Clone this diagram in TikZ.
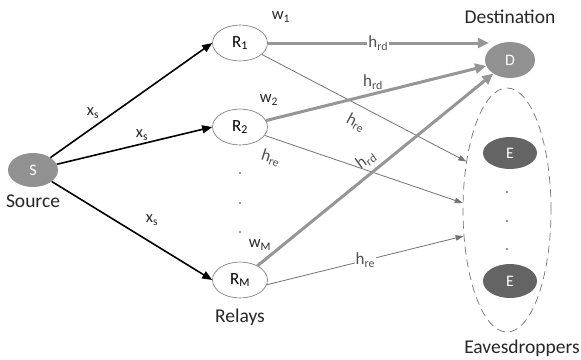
\documentclass[tikz,border=0pt]{standalone}
\usepackage{fontspec}
\setmainfont{Carlito}
\usetikzlibrary{arrows.meta,shapes.geometric}

\definecolor{linkgray}{RGB}{150,150,150}
\definecolor{leakgray}{RGB}{115,115,115}
\definecolor{nodegray}{RGB}{145,145,145}
\definecolor{evegray}{RGB}{100,100,100}
\definecolor{labelgray}{RGB}{80,80,80}

\begin{document}
\begin{tikzpicture}[x=1pt,y=-1pt,
  relay/.style={ellipse,draw=leakgray,fill=white,line width=0.6pt,
    minimum width=55pt,minimum height=36pt,inner sep=0pt,
    font=\fontsize{17}{19}\selectfont},
  endpoint/.style={ellipse,fill=nodegray,minimum width=50pt,minimum height=34pt,
    inner sep=0pt,text=white,font=\fontsize{16}{18}\selectfont},
  eve/.style={ellipse,fill=evegray,minimum width=54pt,minimum height=32pt,
    inner sep=0pt,text=white,font=\fontsize{16}{18}\selectfont},
  caption/.style={font=\fontsize{19.5}{22}\selectfont,text=black!85},
  weight/.style={font=\fontsize{16.5}{18}\selectfont,text=black!85},
  chan/.style={font=\fontsize{17}{19}\selectfont,text=labelgray,inner sep=1pt},
  srclink/.style={line width=1.6pt,black,-{Triangle[length=10pt,width=8pt]}},
  mainlink/.style={line width=3pt,linkgray,-{Triangle[length=11pt,width=10pt]}},
  leaklink/.style={line width=0.8pt,leakgray,-{Triangle[length=8pt,width=5.5pt]}},
  dot/.style={circle,fill=leakgray,inner sep=0pt,minimum size=2.2pt}
]
\useasboundingbox (0,0) rectangle (581,359);

% nodes
\node[endpoint] (S) at (33,170) {S};
\node[caption] (srclbl) at (33,201) {Source};

\node[relay] (R1) at (240,43) {R\textsubscript{1}};
\node[relay] (R2) at (240,127) {R\textsubscript{2}};
\node[relay] (RM) at (240,280) {R\textsubscript{M}};
\node[caption] (rellbl) at (240,317) {Relays};

\node[dot] (rd1) at (240,173) {};
\node[dot] (rd2) at (240,203) {};
\node[dot] (rd3) at (240,232) {};

\node[endpoint,minimum height=36pt] (D) at (510,60) {D};
\node[caption] (dstlbl) at (510,17) {Destination};

\node[ellipse,draw=leakgray,dash pattern=on 8pt off 5pt,line width=0.7pt,
  minimum width=88pt,minimum height=244pt,inner sep=0pt] (eves) at (507,210) {};
\node[eve] (E1) at (510,153) {E};
\node[eve,minimum height=34pt] (E2) at (510,281) {E};
\node[dot] (ed1) at (507,192) {};
\node[dot] (ed2) at (507,221) {};
\node[dot] (ed3) at (507,249) {};
\node[caption,inner sep=1pt] (evelbl) at (522,348) {Eavesdroppers};

% weights
\node[weight] (w1) at (281,17) {w\textsubscript{1}};
\node[weight] (w2) at (269,100) {w\textsubscript{2}};
\node[weight] (wM) at (260,245) {w\textsubscript{M}};

% source to relays
\draw[srclink] (S) -- (R1.west);
\draw[srclink] (S) -- (R2.west);
\draw[srclink] (S) -- (RM.west);
\node[weight] (xs1) at (93,113) {x\textsubscript{s}};
\node[weight] (xs2) at (142,135) {x\textsubscript{s}};
\node[weight] (xs3) at (152,220) {x\textsubscript{s}};

% relays to eavesdroppers
\draw[leaklink] (R1) -- (eves.130);
\draw[leaklink] (R2) -- (eves.171);
\draw[leaklink] (RM.350) -- (eves.211)
  node[chan,fill=white,pos=0.5] {h\textsubscript{re}};
\node[chan,rotate=-28] (hre1) at (356,123) {h\textsubscript{re}};
\node[chan,rotate=-18] (hre2) at (271,158) {h\textsubscript{re}};

% relays to destination
\draw[mainlink] (R1.east) -- ([xshift=4pt]R1.east -| D.west)
  node[chan,fill=white,pos=0.5] {h\textsubscript{rd}};
\draw[mainlink] (R2) -- (D);
\draw[mainlink] (RM) -- (D);
\node[chan] (hrd2) at (373,82) {h\textsubscript{rd}};
\node[chan,rotate=36] (hrd3) at (366,160) {h\textsubscript{rd}};
\end{tikzpicture}
\end{document}
